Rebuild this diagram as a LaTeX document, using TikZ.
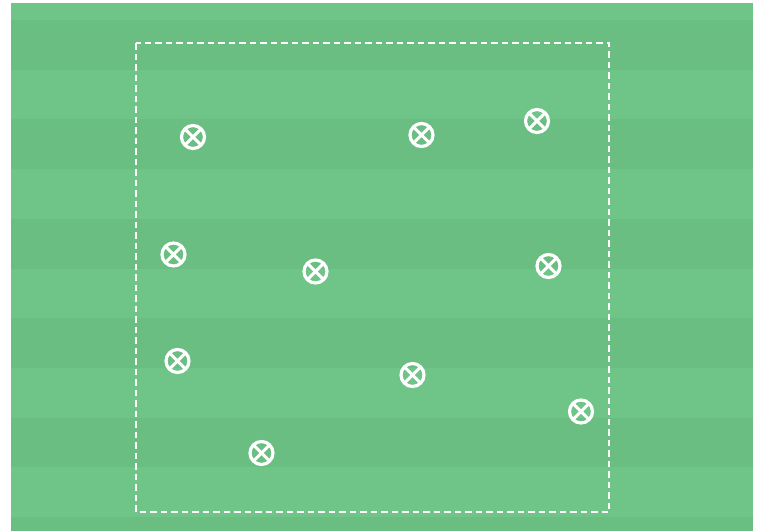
\documentclass[tikz,border=0pt]{standalone}
\definecolor{fieldlight}{RGB}{111,196,136}
\definecolor{fielddark}{RGB}{106,190,130}
\tikzset{
  marker/.style={circle, draw=white, line width=3.2pt, minimum size=23pt, inner sep=0pt,
    path picture={\draw[white, line width=3pt]
      (path picture bounding box.north west) -- (path picture bounding box.south east)
      (path picture bounding box.south west) -- (path picture bounding box.north east);}},
  zone/.style={draw=white, line width=2pt, dash pattern=on 6.5pt off 4pt}
}
\begin{document}
\begin{tikzpicture}[x=1pt,y=-1pt]
\useasboundingbox (0,0) rectangle (761,531);
\fill[white] (0,0) rectangle (761,531);
\fill[fieldlight] (11,3) rectangle (753,531);
\foreach \t in {20,119.4,218.8,318.2,417.6,517} {
  \fill[fielddark] (11,\t) rectangle (753,{min(\t+49.7,531)});
}
\draw[zone] (136,43) rectangle (609,512);
\node[marker] (m1) at (193,137) {};
\node[marker] (m2) at (421.5,135) {};
\node[marker] (m3) at (537,121) {};
\node[marker] (m4) at (173.5,254.5) {};
\node[marker] (m5) at (315.5,271.5) {};
\node[marker] (m6) at (548.5,266) {};
\node[marker] (m7) at (177.5,361) {};
\node[marker] (m8) at (412.5,375) {};
\node[marker] (m9) at (581,411.5) {};
\node[marker] (m10) at (261.5,453) {};
\end{tikzpicture}
\end{document}
